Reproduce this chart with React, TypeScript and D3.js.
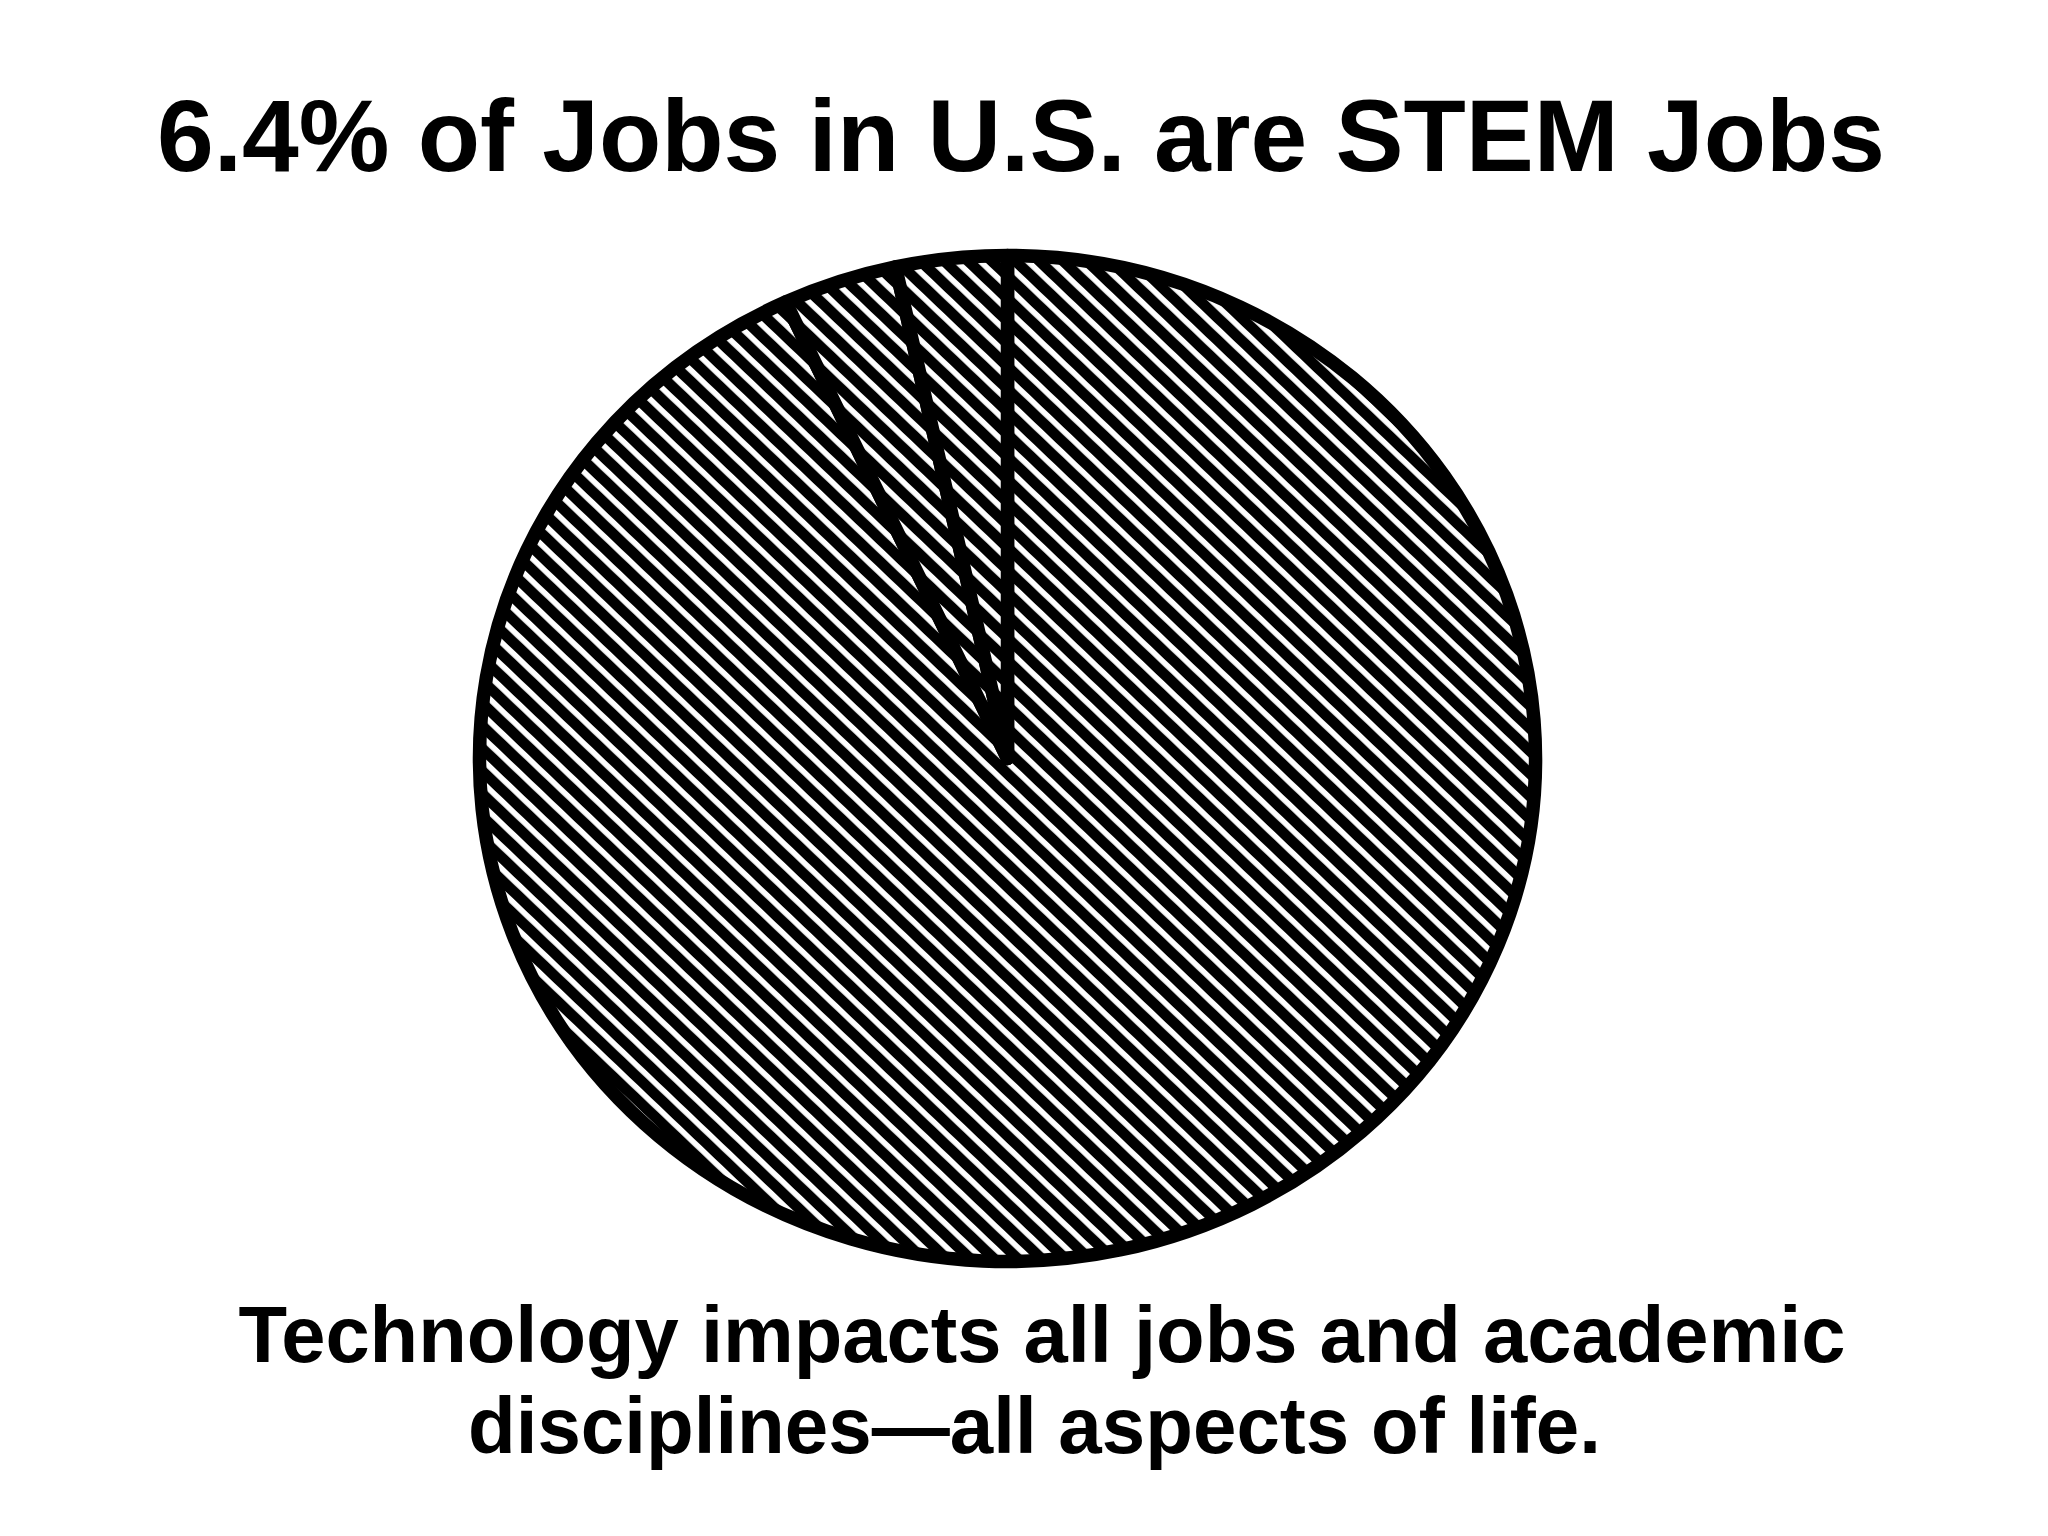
import React from "react";
import * as d3 from "d3";

const categories = ["Non-STEM jobs", "STEM jobs A", "STEM jobs B"];
const values = [93.1, 3.5, 3.4];
const titleText = "6.4% of Jobs in U.S. are STEM Jobs";
const noteLines = [
  "Technology impacts all jobs and academic",
  "disciplines\u2014all aspects of life.",
];

const W = 2048;
const H = 1536;

export default function App() {
  const cx = 1007.5;
  const cy = 758.5;
  const ry = 503;
  const rx = 528;
  const sx = rx / ry;

  const data = categories.map((c, i) => ({ c, v: values[i] }));
  const pie = d3
    .pie<{ c: string; v: number }>()
    .sort(null)
    .value((d) => d.v)
    .startAngle(0)
    .endAngle(2 * Math.PI);
  const arcs = pie(data);
  const arc = d3
    .arc<d3.PieArcDatum<{ c: string; v: number }>>()
    .innerRadius(0)
    .outerRadius(ry);

  return (
    <svg
      width={W}
      height={H}
      style={{ position: "absolute", left: 0, top: 0, background: "#fff" }}
      fontFamily="'Liberation Sans', Arial, sans-serif"
    >
      <defs>
        <pattern
          id="hatch"
          patternUnits="userSpaceOnUse"
          width={16}
          height={16}
          patternTransform="rotate(-45)"
        >
          <rect x={0} y={0} width={16} height={16} fill="#fff" />
          <rect x={0} y={0} width={10.5} height={16} fill="#000" />
        </pattern>
      </defs>
      <rect x={0} y={0} width={W} height={H} fill="#fff" />
      <text
        x={1021}
        y={171}
        textAnchor="middle"
        fontSize={102}
        fontWeight="bold"
        textLength={1728}
        lengthAdjust="spacingAndGlyphs"
      >
        {titleText}
      </text>
      <g transform={`translate(${cx},${cy}) scale(${sx},1)`}>
        {arcs.map((a, i) => (
          <path
            key={i}
            d={arc(a) || ""}
            fill="url(#hatch)"
            stroke="#000"
            strokeWidth={13.5}
            strokeLinejoin="round"
            vectorEffect="non-scaling-stroke"
          />
        ))}
      </g>
      <text
        x={1042}
        y={1362}
        textAnchor="middle"
        fontSize={79}
        fontWeight="bold"
        textLength={1607}
        lengthAdjust="spacingAndGlyphs"
      >
        {noteLines[0]}
      </text>
      <text
        x={1034.5}
        y={1453}
        textAnchor="middle"
        fontSize={79}
        fontWeight="bold"
        textLength={1133}
        lengthAdjust="spacingAndGlyphs"
      >
        {noteLines[1]}
      </text>
    </svg>
  );
}
